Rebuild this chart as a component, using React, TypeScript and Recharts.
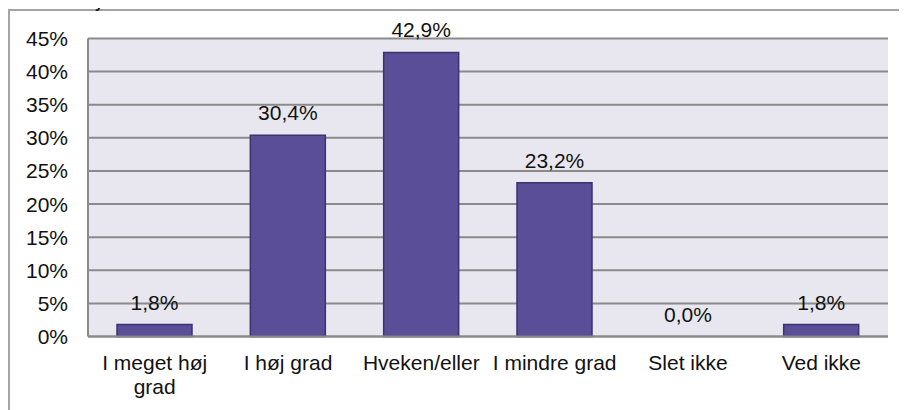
import React from "react";
import { BarChart, Bar, XAxis, YAxis, CartesianGrid, LabelList, ReferenceDot } from "recharts";

const categories = ["I meget høj grad", "I høj grad", "Hveken/eller", "I mindre grad", "Slet ikke", "Ved ikke"];
const shares = [1.8, 30.4, 42.9, 23.2, 0.0, 1.8];
const yTicks = [0, 5, 10, 15, 20, 25, 30, 35, 40, 45];

const FONT = "'Liberation Sans', Arial, sans-serif";
const FS = 21;

const data = categories.map((name, i) => ({ name, value: shares[i] }));

const fmt = (v: number) => v.toFixed(1).replace(".", ",") + "%";

// split a label into lines of at most `max` characters, breaking at spaces
const wrap = (s: string, max = 14) => {
  const lines: string[] = [];
  let cur = "";
  s.split(" ").forEach((w) => {
    const next = cur ? cur + " " + w : w;
    if (next.length > max && cur) {
      lines.push(cur);
      cur = w;
    } else {
      cur = next;
    }
  });
  if (cur) lines.push(cur);
  return lines;
};

const CategoryTick = (props: any) => {
  const { x, y, payload } = props;
  const lines = wrap(String(payload.value));
  return (
    <text x={x} y={y} textAnchor="middle" fontSize={FS} fontFamily={FONT} fill="#111">
      {lines.map((l, i) => (
        <tspan key={i} x={x} dy={i === 0 ? 15 : 24}>
          {l}
        </tspan>
      ))}
    </text>
  );
};

const ValueLabel = (props: any) => {
  const { x, y, width, value } = props;
  return (
    <text
      x={Number(x) + Number(width) / 2}
      y={Number(y) - 15}
      textAnchor="middle"
      fontSize={FS}
      fontFamily={FONT}
      fill="#111"
    >
      {fmt(Number(value))}
    </text>
  );
};

export default function App() {
  return (
    <div style={{ position: "relative", width: 899, height: 402, overflow: "visible" }}>
      {/* frame of the original slide */}
      <div
        style={{
          position: "absolute",
          left: 0,
          top: 1,
          width: 899,
          height: 401,
          borderLeft: "2px solid #a4a4a4",
          borderTop: "2px solid #a4a4a4",
          boxSizing: "border-box",
        }}
      />
      <div style={{ position: "absolute", left: 0, top: 0 }}>
        <BarChart
          width={899}
          height={402}
          data={data}
          margin={{ top: 30.5, right: 19, left: 0, bottom: 0 }}
        >
          <CartesianGrid vertical={false} fill="#e8e7ef" stroke="#8a8a8a" strokeWidth={2} />
          <XAxis
            dataKey="name"
            height={73.5}
            interval={0}
            tickSize={0}
            tickMargin={18}
            axisLine={{ stroke: "#8a8a8a", strokeWidth: 2 }}
            tick={<CategoryTick />}
          />
          <YAxis
            width={80}
            domain={[0, 45]}
            ticks={yTicks}
            tickFormatter={(v: number) => v + "%"}
            tickSize={0}
            tickMargin={20}
            axisLine={{ stroke: "#8a8a8a", strokeWidth: 2 }}
            tick={{ fontSize: FS, fontFamily: FONT, fill: "#111" }}
          />
          <Bar
            dataKey="value"
            barSize={75}
            fill="#5a4e98"
            stroke="#3b336e"
            strokeWidth={1.5}
            isAnimationActive={false}
          >
            <LabelList dataKey="value" content={<ValueLabel />} />
          </Bar>
          {/* empty bars get no rectangle, so label them at the baseline */}
          {data
            .filter((d) => d.value === 0)
            .map((d) => (
              <ReferenceDot
                key={d.name}
                x={d.name}
                y={d.value}
                r={0}
                fill="none"
                stroke="none"
                ifOverflow="visible"
                label={{
                  value: fmt(d.value),
                  position: "top",
                  offset: 15,
                  fontSize: FS,
                  fontFamily: FONT,
                  fill: "#111",
                }}
              />
            ))}
        </BarChart>
      </div>
      {/* cut-off question text above the frame, painted last */}
      <svg
        width={300}
        height={40}
        style={{ position: "absolute", left: -8, top: -8, overflow: "visible", zIndex: 2 }}
      >
        <text x={10} y={6} fontSize={22} fontStyle="italic" fontFamily={FONT} fill="#111">
          ordinært job?
        </text>
      </svg>
    </div>
  );
}
